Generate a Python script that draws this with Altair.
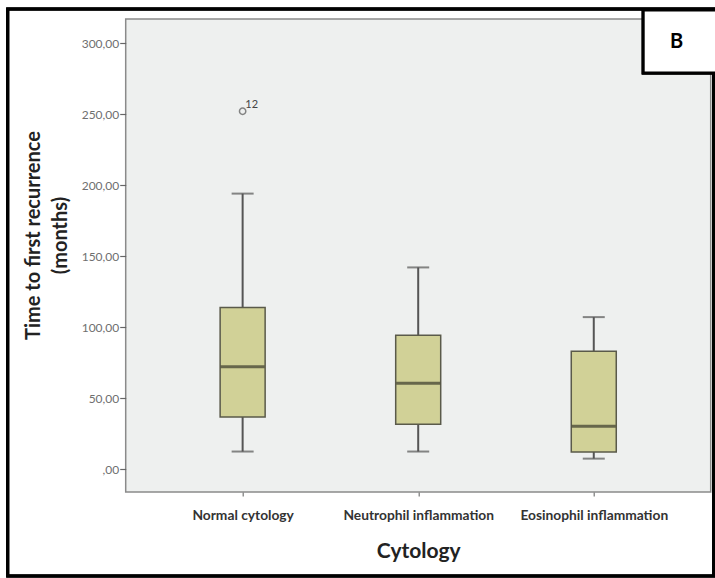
import altair as alt
import pandas as pd

categories = ["Normal cytology", "Neutrophil inflammation", "Eosinophil inflammation"]
whisker_low = [12.3, 12.3, 7.3]
q1 = [36.7, 31.5, 12.0]
median = [72.0, 60.4, 30.1]
q3 = [113.8, 94.2, 83.0]
whisker_high = [194.0, 142.0, 107.0]

outlier_cat = ["Normal cytology"]
outlier_val = [252.0]
outlier_lab = ["12"]

panel_label = "B"

df = pd.DataFrame({
    "cat": categories, "lo": whisker_low, "q1": q1, "med": median,
    "q3": q3, "hi": whisker_high,
})
dfo = pd.DataFrame({"cat": outlier_cat, "v": outlier_val, "lab": outlier_lab})

FONT = "Lato"
x_enc = alt.X("cat:N", sort=categories,
              scale=alt.Scale(type="point", padding=0.666),
              axis=alt.Axis(title="Cytology", labelAngle=0, labelFont=FONT,
                            labelFontWeight="bold", labelFontSize=13.8,
                            labelColor="#333", labelPadding=13,
                            titleFont=FONT, titleFontSize=21, titleFontWeight="bold",
                            titleColor="#222", titlePadding=18,
                            domain=False, tickSize=4, tickColor="#777", tickWidth=1.2))
y_scale = alt.Scale(domain=[-16.2, 317], nice=False, zero=False)
y_axis = alt.Axis(title=["Time to first recurrence", "(months)"],
                  values=[0, 50, 100, 150, 200, 250, 300],
                  labelExpr="datum.value == 0 ? ',00' : replace(format(datum.value, '.2f'), '.', ',')",
                  labelFont=FONT, labelFontSize=12, labelColor="#6f6f6f",
                  tickSize=6, tickColor="#666", tickWidth=1.2, labelPadding=1,
                  domain=False, grid=False,
                  titleFont=FONT, titleFontSize=20, titleFontWeight="bold",
                  titleColor="#222", titleLineHeight=27,
                  titleX=-92, titleY=216, titleAngle=-90, titleAlign="center",
                  titleBaseline="middle")

base = alt.Chart(df)

whisk_lo = base.mark_rule(color="#555", strokeWidth=2).encode(
    x=x_enc, y=alt.Y("lo:Q", scale=y_scale, axis=y_axis), y2="q1:Q")
whisk_hi = base.mark_rule(color="#555", strokeWidth=2).encode(
    x=x_enc, y=alt.Y("q3:Q", scale=y_scale, axis=y_axis), y2="hi:Q")
cap_lo = base.mark_tick(color="#555", size=22, thickness=2).encode(
    x=x_enc, y=alt.Y("lo:Q", scale=y_scale, axis=y_axis))
cap_hi = base.mark_tick(color="#555", size=22, thickness=2).encode(
    x=x_enc, y=alt.Y("hi:Q", scale=y_scale, axis=y_axis))
box = base.mark_bar(size=45, fill="#d1d197", stroke="#5a5a4a", strokeWidth=1.5).encode(
    x=x_enc, y=alt.Y("q1:Q", scale=y_scale, axis=y_axis), y2="q3:Q")
med = base.mark_tick(color="#3b3b2b", size=44, thickness=3).encode(
    x=x_enc, y=alt.Y("med:Q", scale=y_scale, axis=y_axis))

outl = alt.Chart(dfo).mark_point(shape="circle", size=40, filled=False,
                                 color="#555", strokeWidth=1.5).encode(
    x=x_enc, y=alt.Y("v:Q", scale=y_scale, axis=y_axis))
outl_txt = alt.Chart(dfo).mark_text(dx=9, dy=-6, fontSize=11, font=FONT,
                                    color="#444", align="center").encode(
    x=x_enc, y=alt.Y("v:Q", scale=y_scale, axis=y_axis), text="lab:N")

frame = alt.Chart(df).mark_rect(fill=None, stroke="black", strokeWidth=3, clip=False).encode(
    x=alt.value(-118), x2=alt.value(588), y=alt.value(-10), y2=alt.value(557))
bbox = alt.Chart(df).mark_rect(fill="white", stroke="black", strokeWidth=3, clip=False).encode(
    x=alt.value(517.5), x2=alt.value(592), y=alt.value(-9), y2=alt.value(54))
btxt = alt.Chart(pd.DataFrame({"t": [panel_label]})).mark_text(
    font=FONT, fontSize=20, fontWeight="bold", color="black", clip=False).encode(
    x=alt.value(551), y=alt.value(23), text="t:N")

chart = alt.layer(whisk_lo, whisk_hi, cap_lo, cap_hi, box, med, outl, outl_txt,
                  frame, bbox, btxt).properties(
    width=585, height=473,
    autosize=alt.AutoSizeParams(type="none"),
    padding={"left": 125.7, "top": 19, "right": 4.3, "bottom": 86.3},
    background="white",
).configure_view(fill="#eef0ef", stroke="#8a8a8a", strokeWidth=1.5)

chart.save("out.html", embed_options={"renderer": "svg", "actions": False})
